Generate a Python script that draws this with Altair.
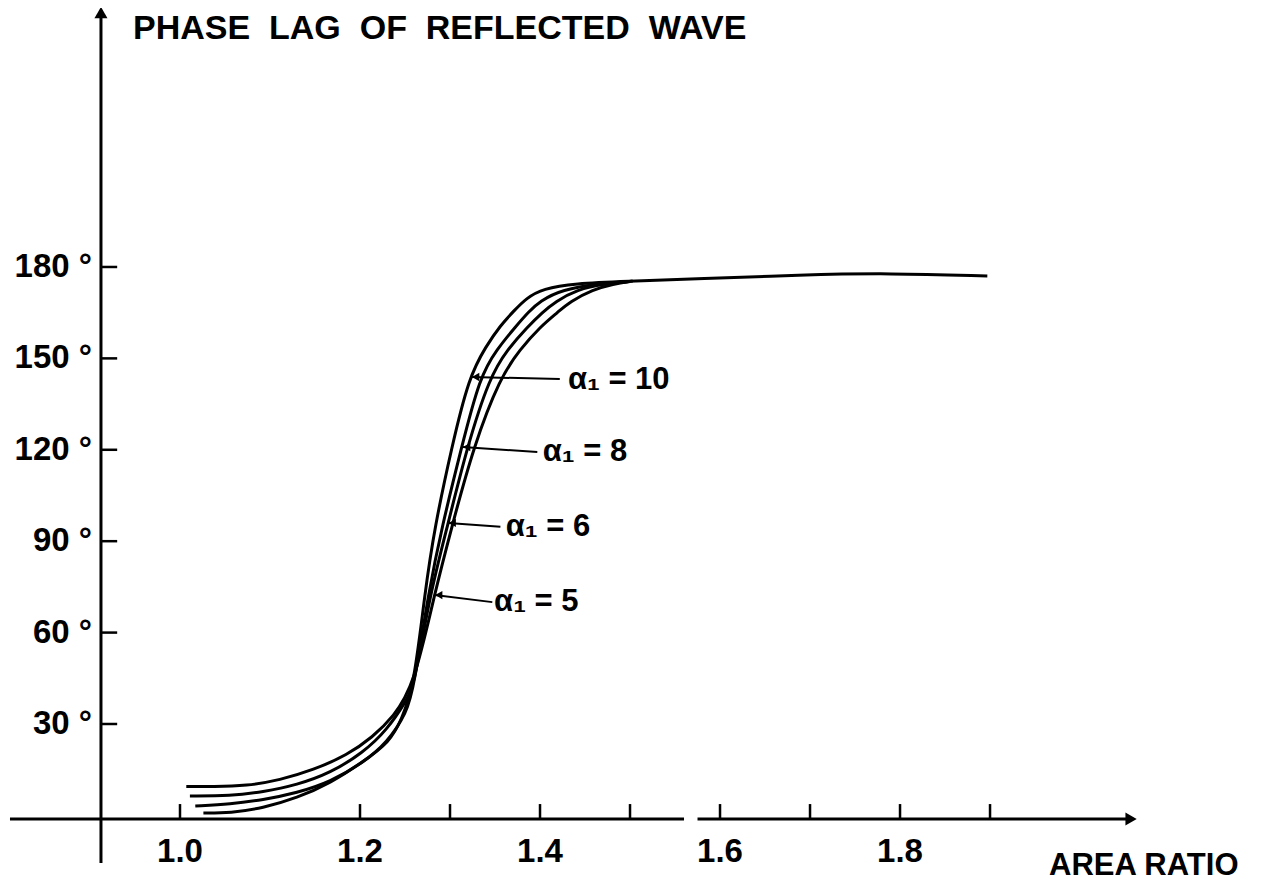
import altair as alt
import pandas as pd

# ---------------- data ----------------
# area ratio (x) and phase lag in degrees (y) for each alpha_1 curve
A10_X = [1.026, 1.056, 1.092, 1.130, 1.167, 1.203, 1.233, 1.246, 1.260, 1.272, 1.283, 1.302,
         1.321, 1.340, 1.356, 1.371, 1.385, 1.403, 1.439, 1.494, 1.578, 1.689, 1.789, 1.897]
A10_Y = [0.8, 0.8, 2.4, 5.7, 10.6, 17.5, 24.1, 31.3, 42.5, 73.0, 94.7, 121.0,
         143.9, 154.0, 160.8, 165.6, 169.8, 172.9, 174.6, 175.3, 176.1, 177.4, 178.0, 177.0]

A8_X = [1.017, 1.056, 1.092, 1.130, 1.167, 1.203, 1.230, 1.252, 1.260, 1.276, 1.291, 1.313,
        1.333, 1.352, 1.374, 1.387, 1.400, 1.424, 1.467, 1.498]
A8_Y = [3.1, 3.7, 5.1, 7.4, 11.0, 17.2, 23.8, 33.6, 42.5, 73.0, 94.7, 121.0,
        143.9, 153.0, 160.8, 165.2, 168.8, 172.6, 174.6, 175.2]

A6_X = [1.011, 1.056, 1.092, 1.130, 1.167, 1.203, 1.230, 1.252, 1.260, 1.278, 1.297, 1.319,
        1.344, 1.364, 1.386, 1.403, 1.417, 1.441, 1.472, 1.500]
A6_Y = [6.4, 6.4, 7.7, 10.0, 13.9, 20.5, 28.0, 37.9, 42.5, 73.0, 94.7, 121.0,
        143.9, 153.0, 160.3, 165.2, 168.6, 172.6, 174.5, 175.2]

A5_X = [1.007, 1.037, 1.074, 1.111, 1.148, 1.186, 1.214, 1.237, 1.260, 1.283, 1.302, 1.326,
        1.356, 1.378, 1.400, 1.420, 1.433, 1.459, 1.481, 1.503]
A5_Y = [9.5, 9.4, 9.7, 11.6, 14.9, 19.8, 25.7, 32.3, 42.5, 73.0, 94.7, 121.0,
        143.9, 153.0, 160.3, 165.2, 168.6, 172.6, 174.4, 175.4]

SERIES = ["α₁ = 10", "α₁ = 8", "α₁ = 6", "α₁ = 5"]

X_TICKS = [1.0, 1.2, 1.3, 1.4, 1.5, 1.6, 1.7, 1.8, 1.9]
X_LABEL_VALUES = [1.0, 1.2, 1.4, 1.6, 1.8]
X_LABELS = ["1.0", "1.2", "1.4", "1.6", "1.8"]
Y_TICKS = [30, 60, 90, 120, 150, 180]
Y_LABELS = ["30 °", "60 °", "90 °", "120 °", "150 °", "180 °"]

TITLE = "PHASE\u00a0 LAG\u00a0 OF\u00a0 REFLECTED\u00a0 WAVE"
X_TITLE = "AREA RATIO"

# annotation leader lines: text anchor and arrow tip on the curve
ANN_TEXT_X = [1.431, 1.403, 1.362, 1.349]
ANN_TEXT_Y = [142.9, 119.3, 94.7, 70.0]
ANN_LINE_X = [1.422, 1.397, 1.356, 1.347]
ANN_LINE_Y = [143.2, 119.3, 94.7, 70.0]
ANN_TIP_X = [1.324, 1.314, 1.298, 1.283]
ANN_TIP_Y = [143.9, 120.9, 96.0, 72.3]

# ---------------- layout (scale domains / axis placement) ----------------
X_DOMAIN = [0.8089, 2.2044]
Y_DOMAIN = [-23.83, 265.0]
Y_AXIS_AT = 0.9122
X_AXIS_AT = -1.18
FONT = "Liberation Sans"

rows = []
for name, xs, ys in zip(SERIES, [A10_X, A8_X, A6_X, A5_X], [A10_Y, A8_Y, A6_Y, A5_Y]):
    for i, (xv, yv) in enumerate(zip(xs, ys)):
        rows.append({"series": name, "order": i, "ratio": xv, "phase": yv})
curves = pd.DataFrame(rows)

xsc = alt.Scale(domain=X_DOMAIN, nice=False, zero=False)
ysc = alt.Scale(domain=Y_DOMAIN, nice=False, zero=False)

lines = alt.Chart(curves).mark_line(color="black", strokeWidth=3, interpolate="basis").encode(
    x=alt.X("ratio:Q", scale=xsc, axis=None),
    y=alt.Y("phase:Q", scale=ysc, axis=None),
    detail="series:N",
    order="order:Q",
)

# axis lines
axes_df = pd.DataFrame([
    {"x": Y_AXIS_AT, "x2": Y_AXIS_AT, "y": -15.6, "y2": 261.9},
    {"x": 0.8111, "x2": 1.560, "y": X_AXIS_AT, "y2": X_AXIS_AT},
    {"x": 1.575, "x2": 2.0511, "y": X_AXIS_AT, "y2": X_AXIS_AT},
])
axis_lines = alt.Chart(axes_df).mark_rule(color="black", strokeWidth=3).encode(
    x=alt.X("x:Q", scale=xsc, axis=None), x2="x2:Q",
    y=alt.Y("y:Q", scale=ysc, axis=None), y2="y2:Q"
)

up_df = pd.DataFrame({"x": [Y_AXIS_AT], "y": [263.5]})
head_up = alt.Chart(up_df).mark_point(shape="triangle-up", filled=True, color="black",
                                      opacity=1, size=170).encode(
    x=alt.X("x:Q", scale=xsc, axis=None), y=alt.Y("y:Q", scale=ysc, axis=None)
)
right_df = pd.DataFrame({"x": [2.0567], "y": [X_AXIS_AT]})
head_right = alt.Chart(right_df).mark_point(shape="triangle-right", filled=True, color="black",
                                            opacity=1, size=170).encode(
    x=alt.X("x:Q", scale=xsc, axis=None), y=alt.Y("y:Q", scale=ysc, axis=None)
)

# ticks
xt_df = pd.DataFrame({"x": X_TICKS, "y": [X_AXIS_AT] * len(X_TICKS),
                      "y2": [X_AXIS_AT + 4.9] * len(X_TICKS)})
x_ticks = alt.Chart(xt_df).mark_rule(color="black", strokeWidth=2.5).encode(
    x=alt.X("x:Q", scale=xsc, axis=None), y=alt.Y("y:Q", scale=ysc, axis=None), y2="y2:Q"
)
yt_df = pd.DataFrame({"y": Y_TICKS, "x": [Y_AXIS_AT] * len(Y_TICKS),
                      "x2": [Y_AXIS_AT + 0.018] * len(Y_TICKS)})
y_ticks = alt.Chart(yt_df).mark_rule(color="black", strokeWidth=2.5).encode(
    x=alt.X("x:Q", scale=xsc, axis=None), x2="x2:Q", y=alt.Y("y:Q", scale=ysc, axis=None)
)

# tick labels
xl_df = pd.DataFrame({"x": X_LABEL_VALUES, "label": X_LABELS, "y": [-12.0] * len(X_LABELS)})
x_labels = alt.Chart(xl_df).mark_text(font=FONT, fontWeight="bold", fontSize=33,
                                      align="center", baseline="middle", color="black").encode(
    x=alt.X("x:Q", scale=xsc, axis=None), y=alt.Y("y:Q", scale=ysc, axis=None), text="label:N"
)
yl_df = pd.DataFrame({"y": Y_TICKS, "label": Y_LABELS, "x": [0.9022] * len(Y_TICKS)})
y_labels = alt.Chart(yl_df).mark_text(font=FONT, fontWeight="bold", fontSize=33,
                                      align="right", baseline="middle", color="black").encode(
    x=alt.X("x:Q", scale=xsc, axis=None), y=alt.Y("y:Q", scale=ysc, axis=None), text="label:N"
)

# axis titles
title_df = pd.DataFrame([{"x": 0.9478, "y": 258.2, "label": TITLE}])
title = alt.Chart(title_df).mark_text(font=FONT, fontWeight="bold", fontSize=34,
                                      align="left", baseline="middle", color="black").encode(
    x=alt.X("x:Q", scale=xsc, axis=None), y=alt.Y("y:Q", scale=ysc, axis=None), text="label:N"
)
xtitle_df = pd.DataFrame([{"x": 1.9656, "y": -16.6, "label": X_TITLE}])
xtitle = alt.Chart(xtitle_df).mark_text(font=FONT, fontWeight="bold", fontSize=31,
                                        align="left", baseline="middle", color="black").encode(
    x=alt.X("x:Q", scale=xsc, axis=None), y=alt.Y("y:Q", scale=ysc, axis=None), text="label:N"
)

# annotations
ann_df = pd.DataFrame({"label": SERIES, "tx": ANN_TEXT_X, "ty": ANN_TEXT_Y,
                       "lx": ANN_LINE_X, "ly": ANN_LINE_Y, "px": ANN_TIP_X, "py": ANN_TIP_Y})
ann_df["hx"] = ann_df["px"] + 0.0045
ann_lines = alt.Chart(ann_df).mark_rule(color="black", strokeWidth=2).encode(
    x=alt.X("lx:Q", scale=xsc, axis=None), y=alt.Y("ly:Q", scale=ysc, axis=None),
    x2="px:Q", y2="py:Q"
)
ann_heads = alt.Chart(ann_df).mark_point(shape="triangle-left", filled=True, color="black",
                                         opacity=1, size=70).encode(
    x=alt.X("hx:Q", scale=xsc, axis=None), y=alt.Y("py:Q", scale=ysc, axis=None)
)
ann_text = alt.Chart(ann_df).mark_text(font=FONT, fontWeight="bold", fontSize=31,
                                       align="left", baseline="middle", color="black").encode(
    x=alt.X("tx:Q", scale=xsc, axis=None), y=alt.Y("ty:Q", scale=ysc, axis=None), text="label:N"
)

chart = alt.layer(
    axis_lines, head_up, head_right, x_ticks, y_ticks, x_labels, y_labels, title, xtitle,
    lines, ann_lines, ann_heads, ann_text,
).properties(
    width=1256, height=880, padding=0,
    autosize=alt.AutoSizeParams(type="none"),
    background="white",
).configure_view(stroke=None)

chart.save("out.html", embed_options={"renderer": "svg", "actions": False})
